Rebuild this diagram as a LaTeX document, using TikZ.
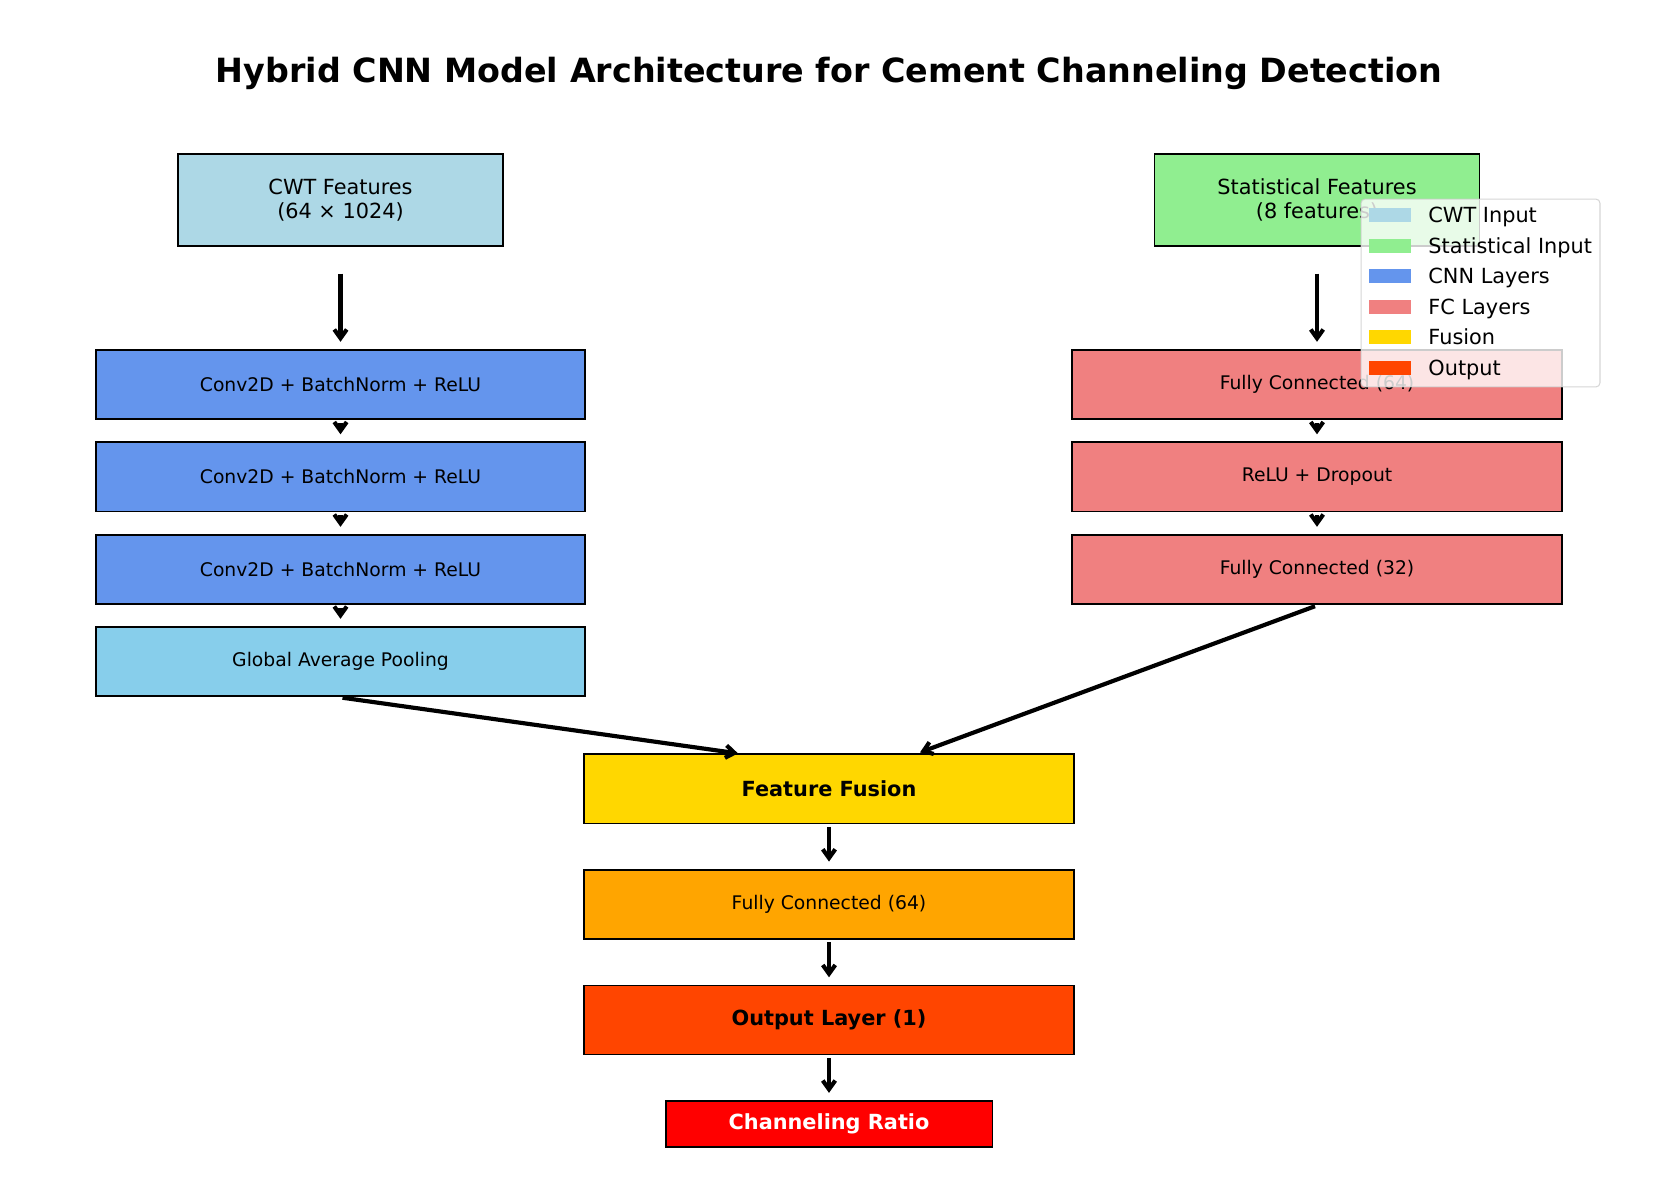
\documentclass[tikz,border=0pt]{standalone}
\usepackage{fontspec}
\setmainfont{DejaVu Sans}
\usetikzlibrary{arrows.meta,calc}
\definecolor{cwtc}{HTML}{ADD8E6}
\definecolor{statc}{HTML}{90EE90}
\definecolor{cnnc}{HTML}{6495ED}
\definecolor{gapc}{HTML}{87CEEB}
\definecolor{fcc}{HTML}{F08080}
\definecolor{fusc}{HTML}{FFD700}
\definecolor{fc64c}{HTML}{FFA500}
\definecolor{outc}{HTML}{FF4500}
\definecolor{chc}{HTML}{FF0000}
\definecolor{legedge}{HTML}{CCCCCC}
\begin{document}
\begin{tikzpicture}[x=0.48pt,y=-0.48pt,
  layer/.style={draw=black, line width=0.8pt, minimum width=235pt, minimum height=33.2pt, inner sep=0pt, font=\fontsize{9}{10.8}\selectfont},
  inbox/.style={draw=black, line width=0.8pt, minimum width=156.1pt, minimum height=44.2pt, inner sep=0pt, align=center, font=\fontsize{10}{11.2}\selectfont},
  boldlayer/.style={layer, font=\fontsize{10}{12}\selectfont\bfseries},
  flow/.style={line width=2pt, -{Straight Barb[length=4.2pt,width=6pt]}},
  legpatch/.style={fill=#1, minimum width=20pt, minimum height=6.9pt, inner sep=0pt},
  legtext/.style={anchor=base west, inner sep=0pt, font=\fontsize{10}{12}\selectfont}
]
\useasboundingbox (0,0) rectangle (1657,1185);
\fill[white] (0,0) rectangle (1657,1185);

% title
\node[anchor=base, inner sep=0pt, font=\fontsize{16}{19}\selectfont\bfseries] (title) at (829,82.7)
  {Hybrid CNN Model Architecture for Cement Channeling Detection};

% inputs
\node[inbox, fill=cwtc] (cwt) at (340.5,200) {CWT Features\\(64 × 1024)};
\node[inbox, fill=statc] (stat) at (1317,200) {Statistical Features\\(8 features)};

% CNN branch
\node[layer, fill=cnnc] (conv1) at (340.5,384.5) {Conv2D + BatchNorm + ReLU};
\node[layer, fill=cnnc] (conv2) at (340.5,476.8) {Conv2D + BatchNorm + ReLU};
\node[layer, fill=cnnc] (conv3) at (340.5,569.3) {Conv2D + BatchNorm + ReLU};
\node[layer, fill=gapc] (gap) at (340.5,661.3) {Global Average Pooling};

% FC branch
\node[layer, fill=fcc] (fc1) at (1317,384.5) {Fully Connected (64)};
\node[layer, fill=fcc] (fc2) at (1317,476.8) {ReLU + Dropout};
\node[layer, fill=fcc] (fc3) at (1317,569.3) {Fully Connected (32)};

% center
\node[boldlayer, fill=fusc] (fusion) at (829,788.8) {Feature Fusion};
\node[layer, fill=fc64c] (fc64) at (829,904.3) {Fully Connected (64)};
\node[boldlayer, fill=outc] (out) at (829,1020) {Output Layer (1)};
\node[draw=black, line width=0.8pt, fill=chc, minimum width=156.8pt, minimum height=22.1pt, inner sep=0pt,
  text=white, font=\fontsize{10}{12}\selectfont\bfseries] (ratio) at (829,1124) {Channeling Ratio};

% arrows
\draw[flow, shorten <=12.8pt, shorten >=3.5pt] (cwt.south) -- (conv1.north);
\draw[flow, shorten <=12.8pt, shorten >=3.5pt] (stat.south) -- (fc1.north);
\draw[flow, shorten <=1.4pt, shorten >=3.4pt] (conv1.south) -- (conv2.north);
\draw[flow, shorten <=1.4pt, shorten >=3.4pt] (conv2.south) -- (conv3.north);
\draw[flow, shorten <=1.4pt, shorten >=3.4pt] (conv3.south) -- (gap.north);
\draw[flow, shorten <=1.4pt, shorten >=3.4pt] (fc1.south) -- (fc2.north);
\draw[flow, shorten <=1.4pt, shorten >=3.4pt] (fc2.south) -- (fc3.north);
\coordinate (fusL) at ($(fusion.north)+(-91,0)$);
\coordinate (fusR) at ($(fusion.north)+(91,-1)$);
\draw[flow] ($(gap.south)+(2,1)$) -- (fusL);
\draw[flow] ($(fc3.south)+(-2,1.5)$) -- (fusR);
\draw[flow, shorten <=1.3pt, shorten >=3.5pt] (fusion.south) -- (fc64.north);
\draw[flow, shorten <=1.3pt, shorten >=3.5pt] (fc64.south) -- (out.north);
\draw[flow, shorten <=1.3pt, shorten >=3.5pt] (out.south) -- (ratio.north);

% legend
\node[draw=legedge, line width=0.5pt, fill=white, fill opacity=0.8, draw opacity=0.8, rounded corners=2pt,
  minimum width=114.7pt, minimum height=90.2pt, inner sep=0pt] (legend) at (1480.5,293) {};
\node[legpatch=cwtc] (lp1) at (1390,215) {};
\node[legpatch=statc] (lp2) at (1390,245.7) {};
\node[legpatch=cnnc] (lp3) at (1390,276) {};
\node[legpatch=fcc] (lp4) at (1390,306.7) {};
\node[legpatch=fusc] (lp5) at (1390,337) {};
\node[legpatch=outc] (lp6) at (1390,368) {};
\node[legtext] (lt1) at (1428,222.5) {CWT Input};
\node[legtext] (lt2) at (1428,253.2) {Statistical Input};
\node[legtext] (lt3) at (1428,283.5) {CNN Layers};
\node[legtext] (lt4) at (1428,314.2) {FC Layers};
\node[legtext] (lt5) at (1428,344.5) {Fusion};
\node[legtext] (lt6) at (1428,375.5) {Output};
\end{tikzpicture}
\end{document}
